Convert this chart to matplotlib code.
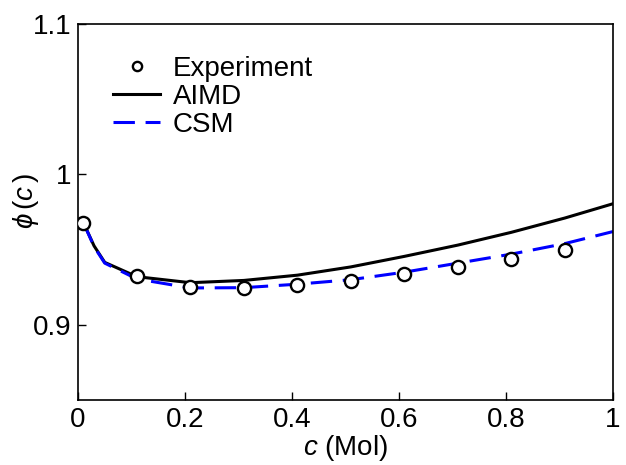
import matplotlib
matplotlib.use('Agg')
import matplotlib.pyplot as plt
import matplotlib as mpl

mpl.rcParams['font.family'] = 'Liberation Sans'
mpl.rcParams['mathtext.fontset'] = 'custom'
mpl.rcParams['mathtext.rm'] = 'Liberation Sans'
mpl.rcParams['mathtext.it'] = 'Liberation Sans:italic'
mpl.rcParams.update({'font.size': 20})

exp_c = [0.01, 0.11, 0.21, 0.31, 0.41, 0.51, 0.61, 0.71, 0.81, 0.91]
exp_phi = [0.968, 0.9327, 0.9253, 0.9247, 0.9265, 0.9293, 0.9338, 0.9384, 0.9438, 0.9498]

model_c = [0.01, 0.03, 0.05, 0.11, 0.21, 0.31, 0.41, 0.51, 0.61, 0.71, 0.81, 0.91, 1.0]
aimd_phi = [0.968, 0.9525, 0.9415, 0.932, 0.928, 0.9295, 0.933, 0.9385, 0.9455, 0.953, 0.9615, 0.971, 0.9805]
csm_phi = [0.968, 0.952, 0.941, 0.9305, 0.9245, 0.9247, 0.927, 0.930, 0.935, 0.941, 0.947, 0.954, 0.962]

fig = plt.figure(figsize=(6.26, 4.65), dpi=100)
ax = fig.add_axes([0.1246, 0.1398, 0.8546, 0.8085])

ax.plot(exp_c, exp_phi, 'o', color='black', markerfacecolor='white', markersize=9.5,
        markeredgewidth=1.7, label='Experiment', zorder=3)
ax.plot(model_c, aimd_phi, '-', color='black', linewidth=2.2, label='AIMD')
ax.plot(model_c, csm_phi, '--', color='#0000ff', linewidth=2.2, dashes=(7, 3.5), label='CSM')

ax.set_xlim(0, 1)
ax.set_ylim(0.85, 1.1)
ax.set_xticks([0, 0.2, 0.4, 0.6, 0.8, 1])
ax.set_xticklabels(['0', '0.2', '0.4', '0.6', '0.8', '1'])
ax.set_yticks([0.9, 1.0, 1.1])
ax.set_yticklabels(['0.9', '1', '1.1'])
ax.tick_params(direction='in', length=6, width=1, pad=5)
for s in ax.spines.values():
    s.set_linewidth(1.2)

ax.set_xlabel(r'$c$ (Mol)', labelpad=0)
ax.set_ylabel(r'$\phi\,(c\,)$')
ax.yaxis.set_label_coords(-0.07, 0.53)

ax.legend(loc='upper left', frameon=False, handlelength=1.7, markerscale=0.7,
          handletextpad=0.45, labelspacing=0.07, borderaxespad=0.0,
          bbox_to_anchor=(0.045, 0.945))

fig.savefig('out.png', dpi=100)
